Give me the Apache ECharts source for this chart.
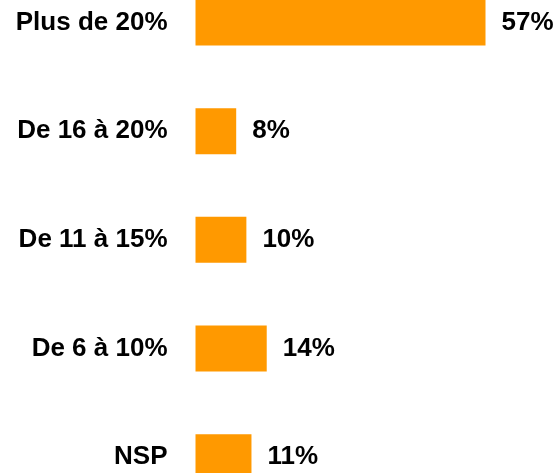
<!DOCTYPE html>
<html>
<head>
<meta charset="utf-8">
<script src="https://cdn.jsdelivr.net/npm/echarts@6/dist/echarts.min.js"></script>
<style>
  html, body { margin: 0; padding: 0; background: #fff; }
  #chart { width: 558px; height: 473px; }
</style>
</head>
<body>
<div id="chart"></div>
<script>
// categories top to bottom
const categories = ["Plus de 20%", "De 16 à 20%", "De 11 à 15%", "De 6 à 10%", "NSP"];
const values = [57, 8, 10, 14, 11];

const chart = echarts.init(document.getElementById("chart"));

chart.setOption({
    animation: false,
    // categories sit on the grid edges (boundaryGap false), so the grid spans
    // from the first bar centre to the last one
    grid: {
        left: 195.5,
        width: 290,
        top: 22.5,
        height: 434.7,
    },
    xAxis: {
        type: "value",
        min: 0,
        max: 57,
        show: false,
    },
    yAxis: {
        type: "category",
        data: categories,
        inverse: true,
        boundaryGap: false,
        axisLine: { show: false },
        axisTick: { show: false },
        axisLabel: {
            margin: 28,
            color: "#000",
            fontFamily: "Liberation Sans, Arial, sans-serif",
            fontWeight: "bold",
            fontSize: 26,
        },
    },
    series: [
        {
            type: "bar",
            data: values,
            barWidth: 46,
            clip: false,
            itemStyle: { color: "#ff9900" },
            label: {
                show: true,
                position: "right",
                distance: 16,
                formatter: "{c}%",
                color: "#000",
                fontFamily: "Liberation Sans, Arial, sans-serif",
                fontWeight: "bold",
                fontSize: 26,
            },
        },
    ],
});
</script>
</body>
</html>
